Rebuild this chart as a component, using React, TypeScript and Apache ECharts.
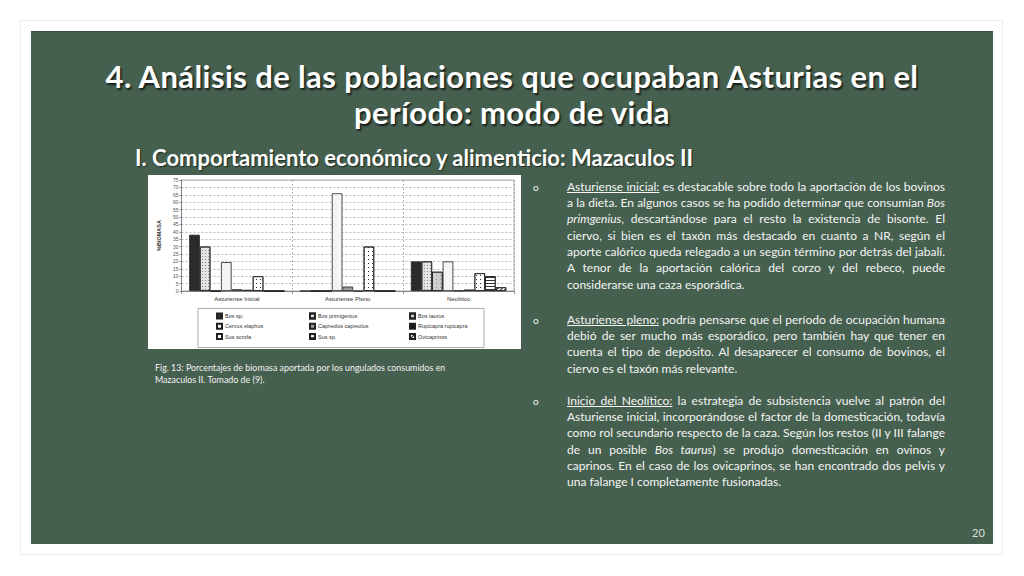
import React, { useEffect, useRef } from "react";
import * as echarts from "echarts";

const categories = ["Asturiense Inicial", "Asturiense Pleno", "Neolítico"];
const bosSp = [38, 0, 20];
const bosPrimigenius = [30, 0, 20];
const bosTaurus = [0, 0, 13];
const cervusElaphus = [19.5, 66, 20];
const capreolusCapreolus = [1.2, 3, 0.3];
const rupicapraRupicapra = [0.8, 0, 1];
const susScrofa = [10, 30, 12];
const susSp = [0, 0, 10];
const ovicaprinos = [0, 0, 2.5];
const yTicks = { min: 0, max: 75, interval: 5 };

const seriesDefs = [
  { name: "Bos sp.", data: bosSp, color: "#2b2b2b" },
  { name: "Bos primigenius", data: bosPrimigenius, color: "#e4e4e4", decal: { symbol: "rect", symbolSize: 1, color: "#8a8a8a", dashArrayX: [1, 2], dashArrayY: [1, 2] } },
  { name: "Bos taurus", data: bosTaurus, color: "#cfcfcf", decal: { symbol: "rect", symbolSize: 1, color: "#9a9a9a", dashArrayX: [1, 3], dashArrayY: [1, 3] } },
  { name: "Cervus elaphus", data: cervusElaphus, color: "#f4f4f4" },
  { name: "Capreolus capreolus", data: capreolusCapreolus, color: "#9c9c9c" },
  { name: "Rupicapra rupicapra", data: rupicapraRupicapra, color: "#161616" },
  { name: "Sus scrofa", data: susScrofa, color: "#ffffff", decal: { symbol: "rect", symbolSize: 1, color: "#333", dashArrayX: [1, 3], dashArrayY: [1, 3] } },
  { name: "Sus sp.", data: susSp, color: "#ffffff", decal: { symbol: "rect", symbolSize: 1, color: "#333", dashArrayX: [1, 0], dashArrayY: [1, 2] } },
  { name: "Ovicaprinos", data: ovicaprinos, color: "#ffffff", decal: { symbol: "rect", symbolSize: 1, color: "#222", dashArrayX: [1, 0], dashArrayY: [1, 2], rotation: -Math.PI / 4 } },
];

const legendColumns = [
  ["Bos sp.", "Cervus elaphus", "Sus scrofa"],
  ["Bos primigenius", "Capreolus capreolus", "Sus sp."],
  ["Bos taurus", "Rupicapra rupicapra", "Ovicaprinos"],
];
const legendLeft = [68, 161, 261];

function Chart() {
  const ref = useRef<HTMLDivElement>(null);
  useEffect(() => {
    if (!ref.current) return;
    const chart = echarts.init(ref.current, null, { renderer: "svg" });
    chart.setOption({
      animation: false,
      backgroundColor: "#ffffff",
      grid: { left: 31, right: 7, top: 5, bottom: 58, show: true, borderColor: "#9a9a9a", borderWidth: 0.8 },
      xAxis: {
        type: "category",
        data: categories,
        axisLine: { lineStyle: { color: "#777", width: 0.8 } },
        axisTick: { show: true, length: 3, lineStyle: { color: "#777", width: 0.8 } },
        splitLine: { show: true, lineStyle: { color: "#999", type: [2, 2], width: 0.8 } },
        axisLabel: { fontSize: 6, color: "#333", margin: 5, fontFamily: "Liberation Sans" },
      },
      yAxis: {
        type: "value",
        min: yTicks.min,
        max: yTicks.max,
        interval: yTicks.interval,
        name: "%BIOMASA",
        nameLocation: "middle",
        nameRotate: 90,
        nameGap: 16,
        nameTextStyle: { fontSize: 5.5, fontWeight: "bold", color: "#333", fontFamily: "Liberation Sans" },
        axisLine: { show: true, lineStyle: { color: "#777", width: 0.8 } },
        axisTick: { show: true, length: 2, lineStyle: { color: "#777", width: 0.8 } },
        splitLine: { show: true, lineStyle: { color: "#aaa", type: [2, 2], width: 0.8 } },
        axisLabel: { fontSize: 5, color: "#555", margin: 3, fontFamily: "Liberation Sans" },
      },
      legend: legendColumns.map((col, i) => ({
        data: col,
        orient: "vertical",
        left: legendLeft[i],
        top: 137,
        itemWidth: 5,
        itemHeight: 5,
        itemGap: 2.3,
        icon: "rect",
        textStyle: { fontSize: 5.5, color: "#333", lineHeight: 8, fontFamily: "Liberation Sans", padding: [0, 0, 0, -2] },
        padding: 0,
        selectedMode: false,
      })),
      graphic: [
        { type: "rect", shape: { x: 50, y: 133.5, width: 286, height: 39 }, style: { fill: "none", stroke: "#999", lineWidth: 0.8 } },
      ],
      series: seriesDefs.map((s) => ({
        type: "bar",
        name: s.name,
        data: s.data,
        barGap: "0%",
        barCategoryGap: "14%",
        itemStyle: { color: s.color, borderColor: "#222", borderWidth: 0.8, decal: s.decal },
      })),
    });
    return () => chart.dispose();
  }, []);
  return <div ref={ref} style={{ position: "absolute", left: 148, top: 175, width: 373, height: 174 }} />;
}

const bodyFont = "Lato, 'Open Sans', sans-serif";
const lineH = 16.3;

type Seg = { t: string; u?: boolean; i?: boolean };
function Line({ segs, last, top }: { segs: Seg[]; last?: boolean; top: number }) {
  return (
    <div
      style={{
        position: "absolute",
        left: 567,
        width: 378,
        top,
        height: lineH,
        lineHeight: lineH + "px",
        whiteSpace: "nowrap",
        textAlign: "justify",
        textAlignLast: last ? "left" : "justify",
      }}
    >
      {segs.map((s, k) => (
        <span key={k} style={{ textDecoration: s.u ? "underline" : "none", fontStyle: s.i ? "italic" : "normal" }}>
          {s.t}
        </span>
      ))}
    </div>
  );
}

const para1: Seg[][] = [
  [{ t: "Asturiense inicial:", u: true }, { t: " es destacable sobre todo la aportación de los bovinos" }],
  [{ t: "a la dieta. En algunos casos se ha podido determinar que consumían " }, { t: "Bos", i: true }],
  [{ t: "primgenius", i: true }, { t: ", descartándose para el resto la existencia de bisonte. El" }],
  [{ t: "ciervo, si bien es el taxón más destacado en cuanto a NR, según el" }],
  [{ t: "aporte calórico queda relegado a un según término por detrás del jabalí." }],
  [{ t: "A tenor de la aportación calórica del corzo y del rebeco, puede" }],
  [{ t: "considerarse una caza esporádica." }],
];
const para2: Seg[][] = [
  [{ t: "Asturiense pleno:", u: true }, { t: " podría pensarse que el período de ocupación humana" }],
  [{ t: "debió de ser mucho más esporádico, pero también hay que tener en" }],
  [{ t: "cuenta el tipo de depósito. Al desaparecer el consumo de bovinos, el" }],
  [{ t: "ciervo es el taxón más relevante." }],
];
const para3: Seg[][] = [
  [{ t: "Inicio del Neolítico:", u: true }, { t: " la estrategia de subsistencia vuelve al patrón del" }],
  [{ t: "Asturiense inicial, incorporándose el factor de la domesticación, todavía" }],
  [{ t: "como rol secundario respecto de la caza. Según los restos (II y III falange" }],
  [{ t: "de un posible " }, { t: "Bos taurus", i: true }, { t: ") se produjo domesticación en ovinos y" }],
  [{ t: "caprinos. En el caso de los ovicaprinos, se han encontrado dos pelvis y" }],
  [{ t: "una falange I completamente fusionadas." }],
];

function Para({ lines, firstCenter }: { lines: Seg[][]; firstCenter: number }) {
  const top0 = firstCenter - lineH / 2;
  return (
    <>
      <div style={{ position: "absolute", left: 533, top: top0, lineHeight: lineH + "px", fontSize: 10 }}>o</div>
      {lines.map((l, k) => (
        <Line key={k} segs={l} last={k === lines.length - 1} top={top0 + k * lineH} />
      ))}
    </>
  );
}

export default function App() {
  return (
    <div style={{ position: "fixed", left: 0, top: 0, width: 1024, height: 576, background: "#ffffff", overflow: "hidden", fontFamily: bodyFont }}>
      <div style={{ position: "absolute", left: 20, top: 20, width: 983, height: 535, border: "1px solid #ececec", boxSizing: "border-box" }} />
      <div style={{ position: "absolute", left: 31, top: 31, width: 962, height: 513, background: "#46604f", borderTop: "1px solid #3a4f42", boxSizing: "border-box" }} />
      <div
        style={{
          position: "absolute",
          left: 31,
          width: 962,
          top: 58,
          textAlign: "center",
          color: "#ffffff",
          fontWeight: 700,
          fontSize: 31,
          letterSpacing: 0.4,
          lineHeight: "36px",
          whiteSpace: "nowrap",
          textShadow: "1.5px 1.5px 2px rgba(0,0,0,0.7)",
        }}
      >
        4. Análisis de las poblaciones que ocupaban Asturias en el
        <br />
        período: modo de vida
      </div>
      <div
        style={{
          position: "absolute",
          left: 135,
          top: 144,
          color: "#ffffff",
          fontWeight: 700,
          fontSize: 22,
          lineHeight: "28px",
          whiteSpace: "nowrap",
          textShadow: "1px 1px 1.5px rgba(0,0,0,0.6)",
        }}
      >
        I. Comportamiento económico y alimenticio: Mazaculos II
      </div>
      <Chart />
      <div style={{ position: "absolute", left: 155, top: 362, color: "#f2f2f2", fontSize: 8.9, lineHeight: "12px", whiteSpace: "nowrap" }}>
        Fig. 13: Porcentajes de biomasa aportada por los ungulados consumidos en
        <br />
        Mazaculos II. Tomado de (9).
      </div>
      <div style={{ color: "#f4f4f4", fontSize: 12 }}>
        <Para lines={para1} firstCenter={187} />
        <Para lines={para2} firstCenter={320} />
        <Para lines={para3} firstCenter={401} />
      </div>
      <div style={{ position: "absolute", left: 972, top: 526, color: "#d8e0da", fontSize: 11 }}>20</div>
    </div>
  );
}
